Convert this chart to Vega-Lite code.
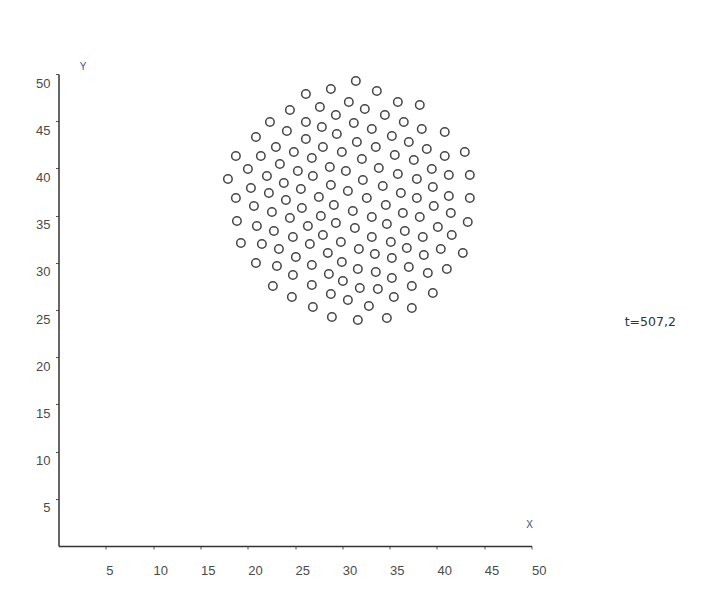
{
  "$schema": "https://vega.github.io/schema/vega-lite/v6.json",
  "width": 473,
  "height": 472,
  "autosize": "none",
  "padding": {"left": 58.5, "top": 74, "right": 176.5, "bottom": 53},
  "background": "white",
  "config": {"view": {"stroke": null}},
  "datasets": {
    "particles": [
      {"x":31.43,"y":49.26},{"x":28.79,"y":48.41},{"x":33.65,"y":48.20},{"x":26.15,"y":47.88},{"x":30.69,"y":47.03},
      {"x":35.87,"y":47.03},{"x":38.19,"y":46.72},{"x":24.46,"y":46.19},{"x":27.63,"y":46.50},{"x":32.38,"y":46.29},
      {"x":29.32,"y":45.66},{"x":34.50,"y":45.66},{"x":22.35,"y":44.92},{"x":26.15,"y":44.92},{"x":31.22,"y":44.81},
      {"x":36.50,"y":44.92},{"x":27.84,"y":44.39},{"x":33.12,"y":44.17},{"x":38.40,"y":44.17},{"x":24.14,"y":43.96},
      {"x":40.83,"y":43.86},{"x":29.42,"y":43.64},{"x":35.24,"y":43.43},{"x":20.87,"y":43.33},{"x":26.15,"y":43.11},
      {"x":31.54,"y":42.80},{"x":37.03,"y":42.80},{"x":22.98,"y":42.27},{"x":27.95,"y":42.27},{"x":33.54,"y":42.27},
      {"x":38.93,"y":42.06},{"x":24.88,"y":41.74},{"x":29.95,"y":41.74},{"x":18.75,"y":41.31},{"x":21.39,"y":41.31},
      {"x":35.55,"y":41.42},{"x":40.83,"y":41.31},{"x":26.78,"y":41.10},{"x":32.07,"y":41.00},{"x":37.56,"y":40.89},
      {"x":20.02,"y":39.94},{"x":23.40,"y":40.47},{"x":25.30,"y":39.72},{"x":28.68,"y":40.15},{"x":17.91,"y":38.88},
      {"x":22.03,"y":39.19},{"x":26.89,"y":39.19},{"x":23.82,"y":38.45},{"x":20.34,"y":37.92},{"x":28.79,"y":38.24},
      {"x":25.62,"y":37.82},{"x":22.24,"y":37.39},{"x":18.75,"y":36.86},{"x":27.52,"y":36.97},{"x":24.04,"y":36.65},
      {"x":20.66,"y":36.02},{"x":25.73,"y":35.81},{"x":29.11,"y":36.12},{"x":22.56,"y":35.38},{"x":18.86,"y":34.43},
      {"x":27.73,"y":34.96},{"x":24.46,"y":34.75},{"x":20.97,"y":33.90},{"x":26.36,"y":33.90},{"x":22.77,"y":33.37},
      {"x":29.32,"y":34.22},{"x":27.95,"y":32.94},{"x":24.78,"y":32.73},{"x":19.28,"y":32.10},{"x":21.50,"y":31.99},
      {"x":26.57,"y":31.99},{"x":30.38,"y":39.72},{"x":33.86,"y":40.04},{"x":35.87,"y":39.41},{"x":39.46,"y":39.94},
      {"x":32.17,"y":38.77},{"x":37.88,"y":38.88},{"x":41.26,"y":39.30},{"x":34.28,"y":38.14},{"x":39.57,"y":38.03},
      {"x":30.59,"y":37.61},{"x":36.19,"y":37.39},{"x":32.59,"y":36.86},{"x":37.88,"y":36.86},{"x":41.26,"y":37.08},
      {"x":34.60,"y":36.12},{"x":39.67,"y":36.02},{"x":31.11,"y":35.49},{"x":36.40,"y":35.28},{"x":33.12,"y":34.85},
      {"x":38.19,"y":34.85},{"x":41.47,"y":35.28},{"x":34.71,"y":34.11},{"x":40.10,"y":33.79},{"x":31.33,"y":33.69},
      {"x":36.61,"y":33.37},{"x":33.12,"y":32.73},{"x":38.51,"y":32.73},{"x":41.57,"y":32.94},{"x":29.85,"y":32.20},
      {"x":35.13,"y":32.20},{"x":23.30,"y":31.46},{"x":28.47,"y":31.04},{"x":20.87,"y":29.98},{"x":23.09,"y":29.66},
      {"x":25.09,"y":30.61},{"x":26.78,"y":29.77},{"x":28.58,"y":28.81},{"x":24.78,"y":28.71},{"x":22.66,"y":27.54},
      {"x":26.78,"y":27.65},{"x":28.79,"y":26.69},{"x":24.67,"y":26.38},{"x":26.89,"y":25.32},{"x":28.90,"y":24.26},
      {"x":31.75,"y":31.46},{"x":36.82,"y":31.57},{"x":40.41,"y":31.46},{"x":33.44,"y":30.93},{"x":38.62,"y":30.83},
      {"x":35.24,"y":30.51},{"x":29.95,"y":30.08},{"x":31.64,"y":29.34},{"x":37.03,"y":29.56},{"x":41.05,"y":29.34},
      {"x":33.54,"y":29.03},{"x":39.04,"y":28.92},{"x":35.24,"y":28.39},{"x":30.06,"y":28.07},{"x":31.85,"y":27.33},
      {"x":37.35,"y":27.54},{"x":33.76,"y":27.22},{"x":39.57,"y":26.80},{"x":35.45,"y":26.38},{"x":30.59,"y":26.06},
      {"x":32.81,"y":25.42},{"x":37.35,"y":25.21},{"x":31.64,"y":23.94},{"x":34.71,"y":24.15},{"x":42.95,"y":41.74},
      {"x":43.48,"y":39.30},{"x":43.48,"y":36.86},{"x":43.26,"y":34.32},{"x":42.74,"y":31.04}
    ],
    "notes": [{"x": 59.85, "y": 23.76, "label": "t=507,2"}]
  },
  "layer": [
    {
      "data": {"name": "particles"},
      "mark": {"type": "point", "shape": "circle", "filled": false, "size": 72, "strokeWidth": 1.5, "color": "#454545", "opacity": 1, "clip": false},
      "encoding": {
        "x": {
          "field": "x", "type": "quantitative",
          "scale": {"domain": [0, 50], "nice": false, "zero": false},
          "axis": {
            "values": [5, 10, 15, 20, 25, 30, 35, 40, 45, 50],
            "title": "X", "titleX": 470.5, "titleY": -21.7, "titleAlign": "center", "titleBaseline": "middle",
            "titleFontSize": 10, "titleFontWeight": "normal", "titleColor": "#4a4a7a", "titleFont": "Liberation Sans",
            "labelAlign": "left", "labelPadding": 15, "labelFlush": false, "labelOverlap": false,
            "labelFontSize": 13, "labelColor": "#4a4a4a", "labelFont": "Liberation Sans",
            "tickSize": 3, "tickColor": "#555555", "domainColor": "#333333", "domainWidth": 1.5, "grid": false
          }
        },
        "y": {
          "field": "y", "type": "quantitative",
          "scale": {"domain": [0, 50], "nice": false, "zero": false},
          "axis": {
            "values": [5, 10, 15, 20, 25, 30, 35, 40, 45, 50],
            "title": "Y", "titleAngle": 0, "titleX": 24, "titleY": -7.5, "titleAlign": "center", "titleBaseline": "middle",
            "titleFontSize": 10, "titleFontWeight": "normal", "titleColor": "#5b3f8f", "titleFont": "Liberation Sans",
            "labelBaseline": "top", "labelOffset": 3, "labelPadding": 5.5, "labelFlush": false, "labelOverlap": false,
            "labelFontSize": 13, "labelColor": "#4a4a4a", "labelFont": "Liberation Sans",
            "tickSize": 3, "tickColor": "#555555", "domainColor": "#333333", "domainWidth": 1.5, "grid": false
          }
        }
      }
    },
    {
      "data": {"name": "notes"},
      "mark": {"type": "text", "align": "left", "baseline": "middle", "fontSize": 12.5, "color": "#333333", "font": "DejaVu Sans", "clip": false},
      "encoding": {
        "x": {"field": "x", "type": "quantitative"},
        "y": {"field": "y", "type": "quantitative"},
        "text": {"field": "label"}
      }
    }
  ]
}
